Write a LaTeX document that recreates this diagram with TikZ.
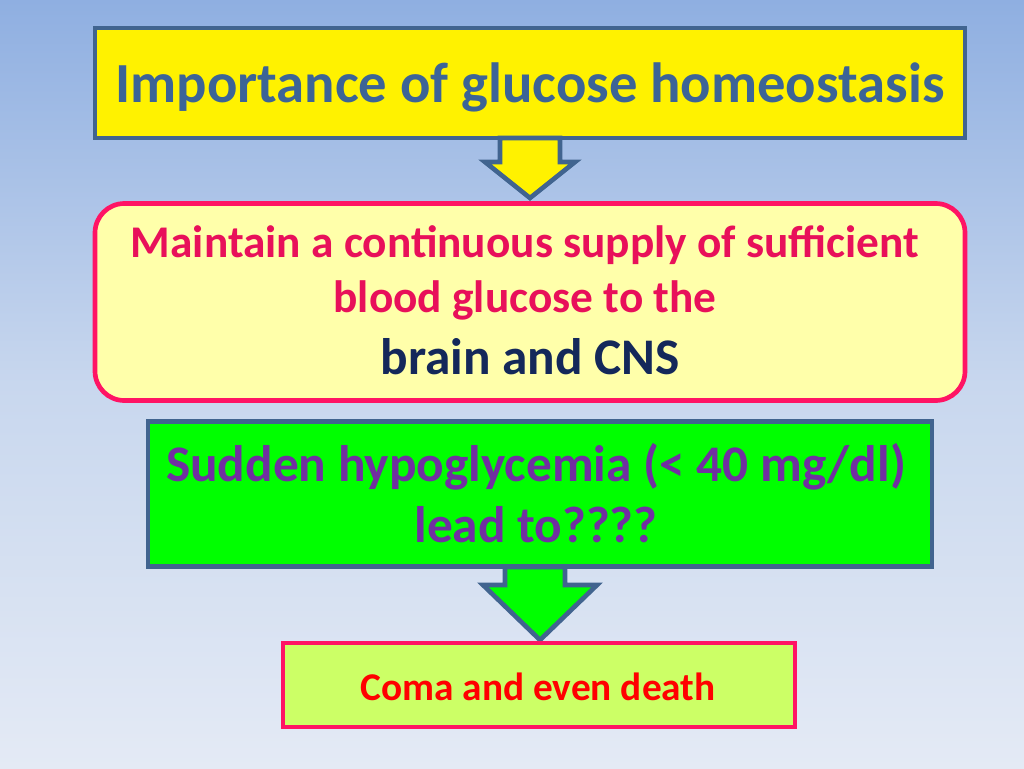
\documentclass[tikz,border=0pt]{standalone}
\usepackage{fontspec}
\setmainfont{Carlito}
\definecolor{bordblue}{HTML}{41648F}
\definecolor{pinkb}{HTML}{FF1464}
\definecolor{titlec}{HTML}{3C6496}
\definecolor{magred}{HTML}{E8105A}
\definecolor{navy}{HTML}{14285A}
\definecolor{purp}{HTML}{7030A0}
\tikzset{
 bluebox/.style={draw=bordblue,line width=3.5pt},
 pinkbox/.style={draw=pinkb,line width=3.5pt},
 txt/.style={font=\bfseries,align=center,inner sep=0pt}
}
\begin{document}
\begin{tikzpicture}[x=0.75pt,y=-0.75pt]
\shade[top color={rgb,255:red,143;green,175;blue,225},bottom color={rgb,255:red,228;green,234;blue,245},middle color={rgb,255:red,200;green,215;blue,238}] (0,0) rectangle (1024,768);
\useasboundingbox (0,0) rectangle (1024,768);
% box 1
\node[bluebox,fill=yellow,minimum width=870*0.75pt,minimum height=110*0.75pt,inner sep=0pt] (b1) at (530,83) {};
\node[txt,text=titlec,font=\bfseries\fontsize{42.5}{46}\selectfont] (t1) at (530,87) {Importance of glucose homeostasis};
% arrow 1
\draw[bluebox,fill=yellow,line join=miter] (500,138) -- (560,138) -- (560,162) -- (575,162) -- (530,198) -- (485,162) -- (500,162) -- cycle;
% box 2
\node[pinkbox,fill={rgb,255:red,255;green,255;blue,170},rounded corners=22pt,minimum width=870*0.75pt,minimum height=197*0.75pt,inner sep=0pt] (b2) at (530,302) {};
\node[txt,text=magred,font=\bfseries\fontsize{34}{38}\selectfont] (t2a) at (525,245) {Maintain a continuous supply of sufficient};
\node[txt,text=magred,font=\bfseries\fontsize{34}{38}\selectfont] (t2b) at (525,300) {blood glucose to the};
\node[txt,text=navy,font=\bfseries\fontsize{38.5}{42}\selectfont] (t2c) at (530,357) {brain and CNS};
% box 3
\node[bluebox,fill=green,minimum width=784*0.75pt,minimum height=145*0.75pt,inner sep=0pt] (b3) at (540,494) {};
\node[txt,text=purp,font=\bfseries\fontsize{38.5}{42}\selectfont] (t3a) at (536,467) {Sudden hypoglycemia (< 40 mg/dl)};
\node[txt,text=purp,font=\bfseries\fontsize{38.5}{42}\selectfont] (t3b) at (536,525) {lead to????};
% arrow 2
\draw[bluebox,fill=green,line join=miter] (505,567) -- (565,567) -- (565,585) -- (597,585) -- (540,640) -- (483,585) -- (505,585) -- cycle;
% box 4
\node[pinkbox,fill={rgb,255:red,204;green,255;blue,102},minimum width=512*0.75pt,minimum height=84*0.75pt,inner sep=0pt] (b4) at (539,685) {};
\node[txt,text=red,font=\bfseries\fontsize{29.5}{33}\selectfont] (t4) at (538,687) {Coma and even death};
\end{tikzpicture}
\end{document}
